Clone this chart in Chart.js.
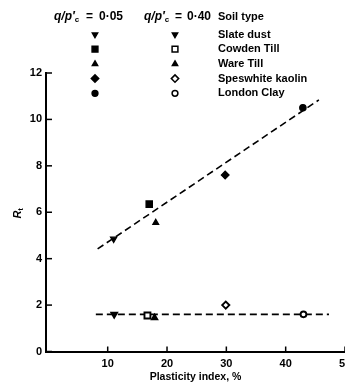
<!DOCTYPE html>
<html>
<head>
<meta charset="utf-8">
<script src="https://cdn.jsdelivr.net/npm/chart.js@4/dist/chart.umd.min.js"></script>
<style>
    html, body { margin: 0; padding: 0; background: #fff; }
    #frame { width: 345px; height: 387px; overflow: hidden; position: relative; }
    canvas { display: block; }
</style>
</head>
<body>
<div id="frame"><canvas id="rt-chart" width="360" height="387"></canvas></div>
<script>
// Soil types, in legend order
const soilTypes = ['Slate dust', 'Cowden Till', 'Ware Till', 'Speswhite kaolin', 'London Clay'];

// q/p'c = 0.05 (upper group)
const plasticity05 = [11.0, 17.0, 18.1, 29.8, 42.9];
const rt05 = [4.85, 6.35, 5.55, 7.6, 10.5];

// q/p'c = 0.40 (lower group)
const plasticity40 = [11.1, 16.7, 17.9, 29.9, 43.0];
const rt40 = [1.6, 1.55, 1.45, 2.0, 1.6];

// Dashed trend lines (end points)
const trend05X = [8.3, 45.6];
const trend05Y = [4.42, 10.84];
const trend40X = [8.0, 47.3];
const trend40Y = [1.6, 1.6];

// Tick labels
const xTicks = [10, 20, 30, 40, 50];
const yTicks = [0, 2, 4, 6, 8, 10, 12];

// Marker styles per soil type
const markerShapes = ['triangle', 'rect', 'triangle', 'rectRot', 'circle'];
const markerRotation = [180, 0, 0, 0, 0];
const markerRadius = [3.6, 4.5, 3.4, 3.9, 3.2];
const legendRadius = [3.0, 4.1, 3.0, 3.7, 2.9];
const filledAt40 = [true, false, true, false, false];

const FONT = "'Liberation Sans', Arial, sans-serif";

function toPoints(xs, ys) {
    return xs.map((x, i) => ({ x: x, y: ys[i] }));
}

// Inner tick marks, legend block and y title
const decorPlugin = {
    id: 'decor',
    afterDraw(chart) {
        const ctx = chart.ctx;
        const xs = chart.scales.x;
        const ys = chart.scales.y;
        const area = chart.chartArea;

        ctx.save();
        ctx.strokeStyle = '#000';
        ctx.lineWidth = 1.5;
        yTicks.forEach(v => {
            const py = ys.getPixelForValue(v);
            ctx.beginPath();
            ctx.moveTo(area.left, py);
            ctx.lineTo(area.left + 6, py);
            ctx.stroke();
        });
        xTicks.forEach(v => {
            const px = xs.getPixelForValue(v);
            ctx.beginPath();
            ctx.moveTo(px, area.bottom);
            ctx.lineTo(px, area.bottom - 5);
            ctx.stroke();
        });

        // legend headers
        ctx.fillStyle = '#000';
        ctx.textBaseline = 'middle';
        ctx.textAlign = 'left';
        const drawHeader = (x, eqX, numX, y, value) => {
            ctx.font = 'italic bold 12px ' + FONT;
            ctx.fillText('q/p\u2032', x, y);
            const w = ctx.measureText('q/p\u2032').width;
            ctx.font = 'bold 8px ' + FONT;
            ctx.fillText('c', x + w, y + 3);
            ctx.font = 'bold 12px ' + FONT;
            ctx.fillText('=', eqX, y);
            ctx.fillText(value, numX, y);
        };
        drawHeader(54, 86, 99, 17, '0\u00b705');
        drawHeader(144, 175, 187, 17, '0\u00b740');
        ctx.font = 'bold 11px ' + FONT;
        ctx.fillText('Soil type', 218, 17);

        soilTypes.forEach((name, i) => {
            const y = 34.5 + i * 14.7;
            const base = { pointStyle: markerShapes[i], rotation: markerRotation[i], radius: legendRadius[i], borderWidth: 1.8 };
            ctx.strokeStyle = '#000';
            ctx.fillStyle = '#000';
            Chart.helpers.drawPoint(ctx, base, 95, y);
            ctx.fillStyle = filledAt40[i] ? '#000' : '#fff';
            Chart.helpers.drawPoint(ctx, base, 175, y);
            ctx.fillStyle = '#000';
            ctx.font = 'bold 11px ' + FONT;
            ctx.fillText(name, 218, y);
        });

        // y axis title R_t
        ctx.translate(18, 213);
        ctx.rotate(-Math.PI / 2);
        ctx.textAlign = 'left';
        ctx.font = 'italic bold 11px ' + FONT;
        const rw = ctx.measureText('R').width;
        ctx.fillText('R', -(rw + 3) / 2, 0);
        ctx.font = 'bold 7px ' + FONT;
        ctx.fillText('t', -(rw + 3) / 2 + rw, 3);
        ctx.restore();
    }
};

const ctx = document.getElementById('rt-chart').getContext('2d');

new Chart(ctx, {
    type: 'scatter',
    data: {
        datasets: [
            {
                label: "q/p'c = 0.05",
                data: toPoints(plasticity05, rt05),
                pointStyle: markerShapes,
                rotation: markerRotation,
                pointRadius: markerRadius,
                backgroundColor: '#000',
                borderColor: '#000',
                borderWidth: 1.2
            },
            {
                label: "q/p'c = 0.40",
                data: toPoints(plasticity40, rt40),
                pointStyle: markerShapes,
                rotation: markerRotation,
                pointRadius: markerRadius.map(r => r - 0.3),
                backgroundColor: filledAt40.map(f => f ? '#000' : '#fff'),
                borderColor: '#000',
                borderWidth: 1.9
            },
            {
                label: 'trend 0.05',
                data: toPoints(trend05X, trend05Y),
                showLine: true,
                pointRadius: 0,
                borderColor: '#000',
                borderWidth: 1.6,
                borderDash: [7, 4]
            },
            {
                label: 'trend 0.40',
                data: toPoints(trend40X, trend40Y),
                showLine: true,
                pointRadius: 0,
                borderColor: '#000',
                borderWidth: 1.6,
                borderDash: [7, 4]
            }
        ]
    },
    options: {
        responsive: false,
        animation: false,
        layout: { padding: { top: 73, right: 15, left: 0, bottom: 0 } },
        plugins: {
            legend: { display: false },
            tooltip: { enabled: false }
        },
        scales: {
            x: {
                type: 'linear',
                min: -0.4,
                max: 50,
                afterBuildTicks: scale => { scale.ticks = xTicks.map(v => ({ value: v })); },
                afterFit: scale => { scale.height = 35.5; },
                grid: { display: false, drawTicks: false },
                border: { display: true, color: '#000', width: 2 },
                ticks: {
                    color: '#000',
                    padding: 6,
                    maxRotation: 0,
                    font: { family: FONT, size: 11, weight: 'bold' }
                },
                title: {
                    display: true,
                    text: 'Plasticity index, %',
                    color: '#000',
                    padding: { top: 0, bottom: 4 },
                    font: { family: FONT, size: 10.5, weight: 'bold' }
                }
            },
            y: {
                type: 'linear',
                min: 0,
                max: 12,
                afterBuildTicks: scale => { scale.ticks = yTicks.map(v => ({ value: v })); },
                afterFit: scale => { scale.width = 46; },
                grid: { display: false, drawTicks: false },
                border: { display: true, color: '#000', width: 2 },
                ticks: {
                    color: '#000',
                    padding: 4,
                    font: { family: FONT, size: 11, weight: 'bold' }
                }
            }
        }
    },
    plugins: [decorPlugin]
});
</script>
</body>
</html>
